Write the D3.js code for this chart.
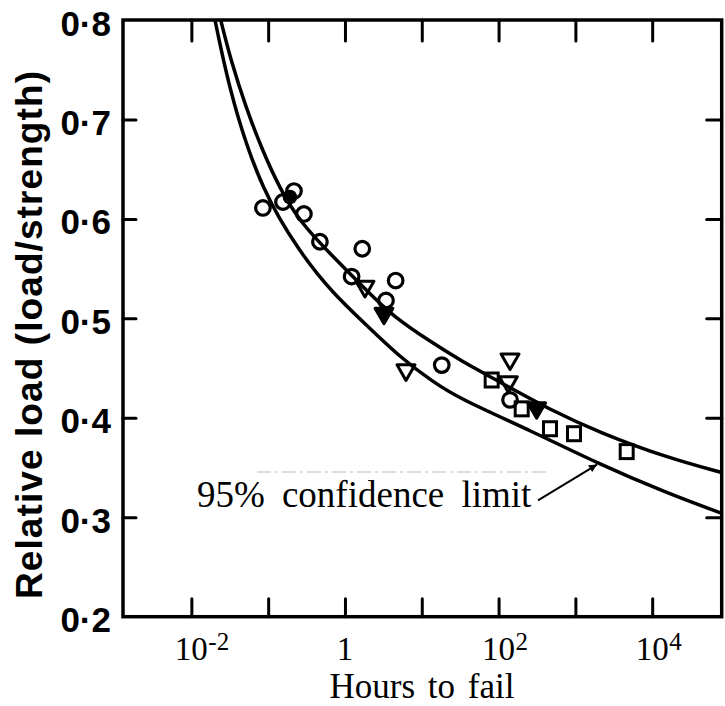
<!DOCTYPE html>
<html>
<head>
<meta charset="utf-8">
<script src="https://cdn.jsdelivr.net/npm/d3@7"></script>
<style>
  body { margin: 0; background: #fff; }
</style>
</head>
<body>
<svg id="chart" width="725" height="706"></svg>
<script>
// stress-rupture plot: relative load vs hours to fail (log)

// fitted mean curve and the 95% limit
const meanHours = [0.0241, 0.0325, 0.0525, 0.083, 0.1426, 0.259, 0.698, 1.92, 4.22, 14.0, 31.4, 104, 467, 2090, 15450, 80350];
const meanLoad  = [0.800, 0.760, 0.710, 0.670, 0.630, 0.597, 0.562, 0.528, 0.502, 0.475, 0.458, 0.436, 0.408, 0.385, 0.360, 0.345];
const limHours = [0.0203, 0.026, 0.037, 0.0822, 0.259, 0.698, 1.92, 5.20, 14.0, 31.4, 281, 1910, 15450, 80350];
const limLoad  = [0.800, 0.760, 0.710, 0.629, 0.566, 0.525, 0.493, 0.461, 0.436, 0.419, 0.386, 0.3545, 0.3244, 0.304];

// test points
const circleHours = [0.0855, 0.156, 0.217, 0.292, 0.472, 1.68, 1.22, 4.57, 3.42, 18.2, 141];
const circleLoad  = [0.611, 0.617, 0.628, 0.605, 0.577, 0.570, 0.542, 0.538, 0.518, 0.453, 0.418];
const dotHours = [0.192];
const dotLoad  = [0.622];
const triHours = [1.82, 6.23, 141, 134];
const triLoad  = [0.532, 0.448, 0.459, 0.436];
const solidTriHours = [3.22, 313];
const solidTriLoad  = [0.505, 0.410];
const squareHours = [81.3, 200, 467, 959, 4656];
const squareLoad  = [0.438, 0.409, 0.389, 0.384, 0.366];

const xTicks = [1e-2, 1e-1, 1, 1e1, 1e2, 1e3, 1e4];
const xLabels = [[1e-2, "10", "-2"], [1, "1", ""], [1e2, "10", "2"], [1e4, "10", "4"]];
const yTicks = [0.2, 0.3, 0.4, 0.5, 0.6, 0.7, 0.8];

const svg = d3.select("#chart");

const x = d3.scaleLog().domain([Math.pow(10, -2.89), Math.pow(10, 4.905)]).range([123, 721.7]);
const y = d3.scaleLinear().domain([0.2, 0.8]).range([616.7, 20]);

const serif = "'Liberation Serif', 'Times New Roman', serif";
const sans = "'Liberation Sans', Arial, sans-serif";

// ticks (all pointing inward)
const tickStyle = g => {
  g.select(".domain").remove();
  g.selectAll(".tick line").attr("stroke", "#000").attr("stroke-width", 3).attr("stroke-linecap", "round");
};

svg.append("g").attr("transform", "translate(0," + y(0.2) + ")")
  .call(d3.axisBottom(x).tickValues(xTicks).tickSize(-18).tickFormat(""))
  .call(tickStyle);
svg.append("g").attr("transform", "translate(0," + y(0.8) + ")")
  .call(d3.axisTop(x).tickValues(xTicks).tickSize(-21).tickFormat(""))
  .call(tickStyle);
svg.append("g").attr("transform", "translate(" + x.range()[0] + ",0)")
  .call(d3.axisLeft(y).tickValues(yTicks.slice(1, -1)).tickSize(-13).tickFormat(""))
  .call(tickStyle);
svg.append("g").attr("transform", "translate(" + x.range()[1] + ",0)")
  .call(d3.axisRight(y).tickValues(yTicks.slice(1, -1)).tickSize(-15).tickFormat(""))
  .call(tickStyle);

// frame
svg.append("rect")
  .attr("x", x.range()[0])
  .attr("y", y(0.8))
  .attr("width", x.range()[1] - x.range()[0])
  .attr("height", y(0.2) - y(0.8))
  .attr("fill", "none")
  .attr("stroke", "#000")
  .attr("stroke-width", 3.5);

// y tick labels
svg.append("g").selectAll("text")
  .data(yTicks)
  .join("text")
  .attr("x", 111)
  .attr("y", d => y(d) + 3)
  .attr("text-anchor", "end")
  .attr("dominant-baseline", "central")
  .attr("font-family", sans)
  .attr("font-weight", "bold")
  .attr("font-size", "35px")
  .text(d => d3.format(".1f")(d).replace(".", "\u00b7"));

// x tick labels with superscripts
const xl = svg.append("g").selectAll("text")
  .data(xLabels)
  .join("text")
  .attr("font-family", serif)
  .attr("font-size", "33px")
  .attr("y", 660);
xl.append("tspan")
  .attr("x", d => x(d[0]))
  .attr("text-anchor", "middle")
  .text(d => d[1]);
xl.filter(d => d[2] !== "")
  .append("tspan")
  .attr("x", d => x(d[0]) + 17)
  .attr("dy", -10)
  .attr("font-size", "25px")
  .text(d => d[2]);

// axis titles
svg.append("text")
  .attr("x", 422)
  .attr("y", 698)
  .attr("text-anchor", "middle")
  .attr("font-family", serif)
  .attr("font-size", "35px")
  .attr("word-spacing", "4px")
  .text("Hours to fail");

svg.append("text")
  .attr("transform", "translate(42,335) rotate(-90)")
  .attr("text-anchor", "middle")
  .attr("font-family", sans)
  .attr("font-weight", "bold")
  .attr("font-size", "37px")
  .attr("textLength", 528)
  .attr("lengthAdjust", "spacing")
  .text("Relative load (load/strength)");

// curves
const curve = d3.line()
  .x(d => x(d[0]))
  .y(d => y(d[1]))
  .curve(d3.curveBasis);

const plot = svg.append("g");

plot.append("path")
  .datum(d3.zip(meanHours, meanLoad))
  .attr("d", curve)
  .attr("fill", "none")
  .attr("stroke", "#000")
  .attr("stroke-width", 3.5);

plot.append("path")
  .datum(d3.zip(limHours, limLoad))
  .attr("d", curve)
  .attr("fill", "none")
  .attr("stroke", "#000")
  .attr("stroke-width", 3.5);

// markers
plot.selectAll(".circ")
  .data(d3.zip(circleHours, circleLoad))
  .join("circle")
  .attr("cx", d => x(d[0]))
  .attr("cy", d => y(d[1]))
  .attr("r", 7.3)
  .attr("fill", "none")
  .attr("stroke", "#000")
  .attr("stroke-width", 3.2);

plot.selectAll(".dot")
  .data(d3.zip(dotHours, dotLoad))
  .join("circle")
  .attr("cx", d => x(d[0]))
  .attr("cy", d => y(d[1]))
  .attr("r", 7.3)
  .attr("fill", "#000");

const tri = d3.symbol().type(d3.symbolTriangle).size(140);

plot.selectAll(".tri")
  .data(d3.zip(triHours, triLoad))
  .join("path")
  .attr("d", tri)
  .attr("transform", d => "translate(" + x(d[0]) + "," + y(d[1]) + ") rotate(180)")
  .attr("fill", "none")
  .attr("stroke", "#000")
  .attr("stroke-width", 3)
  .attr("stroke-linejoin", "round");

plot.selectAll(".stri")
  .data(d3.zip(solidTriHours, solidTriLoad))
  .join("path")
  .attr("d", tri)
  .attr("transform", d => "translate(" + x(d[0]) + "," + y(d[1]) + ") rotate(180)")
  .attr("fill", "#000")
  .attr("stroke", "#000")
  .attr("stroke-width", 3)
  .attr("stroke-linejoin", "round");

plot.selectAll(".sq")
  .data(d3.zip(squareHours, squareLoad))
  .join("rect")
  .attr("x", d => x(d[0]) - 6.5)
  .attr("y", d => y(d[1]) - 7)
  .attr("width", 13)
  .attr("height", 14)
  .attr("fill", "none")
  .attr("stroke", "#000")
  .attr("stroke-width", 3);

// annotation
const noteText = [0.0118, 0.310];
const arrowTail = [326, 0.317];
const arrowTip = [1910, 0.353];
const scanLine = [[0.0715, 0.3455], [427, 0.3455]];

svg.append("line")
  .attr("x1", x(scanLine[0][0]))
  .attr("y1", y(scanLine[0][1]))
  .attr("x2", x(scanLine[1][0]))
  .attr("y2", y(scanLine[1][1]))
  .attr("stroke", "#bbb")
  .attr("stroke-width", 1.2)
  .attr("stroke-dasharray", "14 4 3 4");

svg.append("text")
  .attr("x", x(noteText[0]))
  .attr("y", y(noteText[1]))
  .attr("font-family", serif)
  .attr("font-size", "37px")
  .attr("word-spacing", "8px")
  .text("95% confidence limit");

svg.append("defs").append("marker")
  .attr("id", "head")
  .attr("viewBox", "0 0 10 10")
  .attr("refX", 10)
  .attr("refY", 5)
  .attr("markerWidth", 10)
  .attr("markerHeight", 8)
  .attr("markerUnits", "userSpaceOnUse")
  .attr("orient", "auto")
  .append("path")
  .attr("d", "M0,0 L10,5 L0,10 Z")
  .attr("fill", "#000");

svg.append("line")
  .attr("x1", x(arrowTail[0]))
  .attr("y1", y(arrowTail[1]))
  .attr("x2", x(arrowTip[0]))
  .attr("y2", y(arrowTip[1]))
  .attr("stroke", "#000")
  .attr("stroke-width", 2)
  .attr("marker-end", "url(#head)");
</script>
</body>
</html>
